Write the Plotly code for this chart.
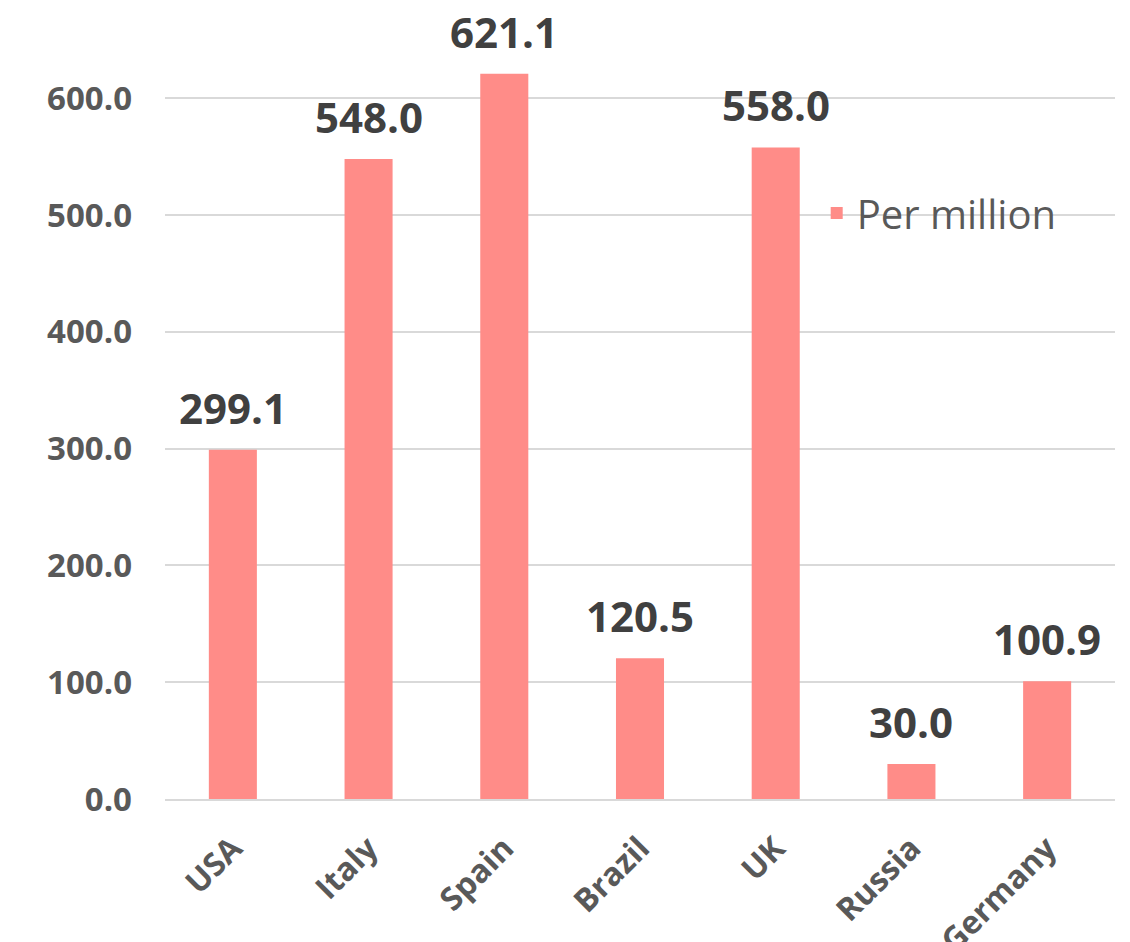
import plotly.graph_objects as go

countries = ["USA", "Italy", "Spain", "Brazil", "UK", "Russia", "Germany"]
per_million = [299.1, 548.0, 621.1, 120.5, 558.0, 30.0, 100.9]
y_ticks = [0, 100, 200, 300, 400, 500, 600]
y_tick_labels = ["0.0", "100.0", "200.0", "300.0", "400.0", "500.0", "600.0"]

BAR = "#FF8C88"
FONT = "Open Sans"

fig = go.Figure()
fig.add_trace(go.Bar(
    x=countries, y=per_million, name="Per million",
    marker=dict(color=BAR, line=dict(width=0)),
    cliponaxis=False,
))

for c, v in zip(countries, per_million):
    fig.add_annotation(
        x=c, y=v, text=f"<b>{v:.1f}</b>", showarrow=False,
        yanchor="bottom", yshift=12,
        font=dict(family=FONT, size=42, color="#404040"),
    )

fig.update_layout(
    width=1130, height=942,
    margin=dict(l=157, r=23, t=32, b=151, autoexpand=False),
    paper_bgcolor="white", plot_bgcolor="white",
    bargap=0.646,
    showlegend=True,
    legend=dict(
        x=0.686, y=0.772, xanchor="left", yanchor="middle",
        font=dict(family=FONT, size=40, color="#595959"),
        bgcolor="rgba(0,0,0,0)",
    ),
    xaxis=dict(
        automargin=False,
        showline=True, linecolor="#D9D9D9", linewidth=1.5,
        showgrid=False, ticks="", tickangle=-45,
        tickfont=dict(family=FONT, size=32, color="#595959", weight="bold"),
        ticklabelstandoff=16,
    ),
    yaxis=dict(
        automargin=False,
        range=[0, 650], tickvals=y_ticks, ticktext=y_tick_labels,
        showgrid=True, gridcolor="#D9D9D9", gridwidth=1.5,
        zeroline=False, showline=False, ticks="",
        tickfont=dict(family=FONT, size=33, color="#595959", weight="bold"),
        ticklabelstandoff=32,
    ),
)

fig.write_html("out.html")
